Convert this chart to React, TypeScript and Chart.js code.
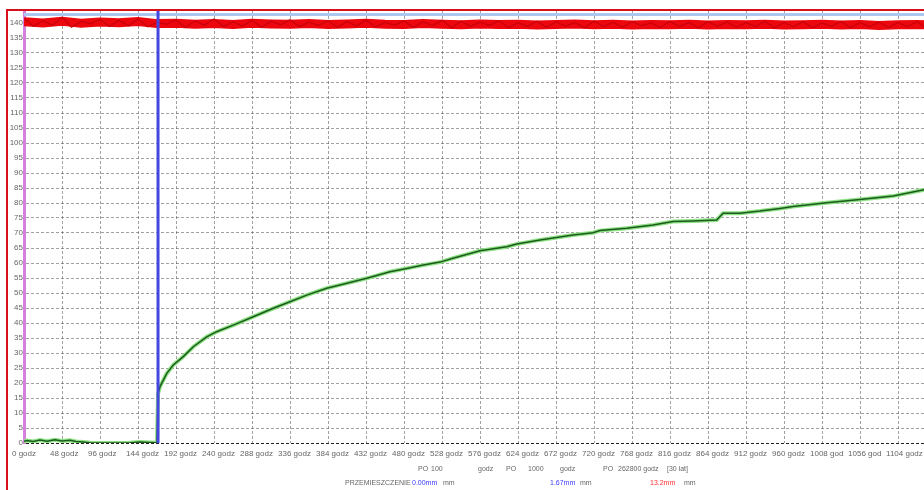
import { useEffect, useRef } from "react";
import { Chart, registerables } from "chart.js";

Chart.register(...registerables);

// ---- data (hours on x, displacement-ish scale on y) ----
const yTicks = [0, 5, 10, 15, 20, 25, 30, 35, 40, 45, 50, 55, 60, 65, 70, 75, 80, 85, 90, 95, 100, 105, 110, 115, 120, 125, 130, 135, 140];
const xTicks = [0, 48, 96, 144, 192, 240, 288, 336, 384, 432, 480, 528, 576, 624, 672, 720, 768, 816, 864, 912, 960, 1008, 1056, 1104];

const greenHours = [0, 3.8, 11.4, 20.2, 29, 39, 48, 58, 65.7, 74.5, 83.4, 108.6, 134, 146.5, 159, 168, 169.3, 171.8, 180.3, 188.6, 201.2, 213.9, 230.8, 243.4, 264.4, 289.6, 314.9, 336, 357.1, 382.4, 399.2, 432.9, 462.3, 483.4, 504.4, 525.5, 541.9, 576, 609.7, 622.3, 651.8, 693.5, 718.7, 727.6, 761.3, 794.5, 819.8, 845.1, 875, 883, 904.4, 929.7, 955, 971.4, 1013.9, 1056, 1097.7, 1140];
const greenValues = [0.6, 0.8, 0.5, 1.0, 0.6, 1.1, 0.7, 0.9, 0.5, 0.3, 0.1, 0, 0.1, 0.3, 0.2, 0.1, 16.5, 18.8, 23.2, 26, 28.8, 32.1, 35.4, 37.1, 39.3, 42.1, 44.9, 47.1, 49.3, 51.6, 52.7, 54.9, 57.1, 58.2, 59.3, 60.3, 61.6, 64.1, 65.4, 66.3, 67.7, 69.3, 70.1, 70.8, 71.6, 72.7, 73.8, 74, 74.3, 76.6, 76.6, 77.3, 78.2, 78.8, 80.1, 81.2, 82.3, 84.6];

const redHours = [0, 24, 48, 72, 96, 120, 144, 168, 192, 216, 240, 264, 288, 312, 336, 360, 384, 408, 432, 456, 480, 504, 528, 552, 576, 600, 624, 648, 672, 696, 720, 744, 768, 792, 816, 840, 864, 888, 912, 936, 960, 984, 1008, 1032, 1056, 1080, 1104, 1128, 1152, 1176, 1200, 1224];
const redValues = [140.4, 140.0, 140.6, 139.9, 140.3, 140.1, 140.5, 139.8, 139.9, 139.6, 139.8, 139.5, 139.9, 139.7, 139.6, 139.8, 139.5, 139.7, 139.9, 139.6, 139.5, 139.8, 139.6, 139.4, 139.7, 139.5, 139.6, 139.3, 139.5, 139.7, 139.4, 139.6, 139.3, 139.5, 139.4, 139.6, 139.3, 139.5, 139.4, 139.6, 139.3, 139.4, 139.6, 139.3, 139.5, 139.2, 139.4, 139.5, 139.3, 139.4, 139.5, 139.3];

const redNoiseHours = [0, 12, 24, 36, 48, 60, 72, 84, 96, 108, 120, 132, 144, 156, 168, 180, 192, 204, 216, 228, 240, 252, 264, 276, 288, 300, 312, 324, 336, 348, 360, 372, 384, 396, 408, 420, 432, 444, 456, 468, 480, 492, 504, 516, 528, 540, 552, 564, 576, 588, 600, 612, 624, 636, 648, 660, 672, 684, 696, 708, 720, 732, 744, 756, 768, 780, 792, 804, 816, 828, 840, 852, 864, 876, 888, 900, 912, 924, 936, 948, 960, 972, 984, 996, 1008, 1020, 1032, 1044, 1056, 1068, 1080, 1092, 1104, 1116, 1128, 1140, 1152, 1164, 1176, 1188, 1200, 1212, 1224, 1236];
const redNoiseValues = [141.6, 138.9, 140.8, 139.2, 141.9, 138.6, 140.5, 139.8, 141.2, 138.8, 140.9, 139.1, 141.4, 138.7, 140.2, 139.6, 141.0, 138.5, 140.7, 139.3, 141.3, 138.9, 140.4, 139.0, 140.9, 138.6, 140.6, 139.4, 141.1, 138.8, 140.3, 139.2, 140.8, 138.5, 140.5, 139.0, 141.0, 138.7, 140.2, 139.3, 140.7, 138.6, 140.4, 139.1, 140.9, 138.4, 140.6, 138.9, 140.3, 139.2, 140.8, 138.5, 140.1, 138.9, 140.6, 138.6, 140.4, 139.0, 140.2, 138.4, 140.7, 138.8, 140.3, 138.6, 140.5, 139.1, 140.0, 138.5, 140.6, 138.8, 140.2, 138.4, 140.5, 138.9, 140.3, 138.6, 140.1, 138.8, 140.6, 138.3, 140.2, 138.7, 140.4, 138.5, 140.0, 138.9, 140.5, 138.4, 140.2, 138.7, 140.3, 138.5, 140.1, 138.8, 140.4, 138.3, 140.2, 138.6, 140.0, 138.7, 140.3, 138.5, 140.1, 138.6];

const blueCursorHour = 169.3;
const upperLineValue = 142.8;
const yMax = 144;
const xMax = 1232.8;

const FONT = "'Liberation Sans Narrow', 'Liberation Sans', Arial, sans-serif";

function pts(xs: number[], ys: number[]) {
  return xs.map((x, i) => ({ x, y: ys[i] }));
}

export default function App() {
  const ref = useRef<HTMLCanvasElement>(null);

  useEffect(() => {
    const canvas = ref.current!;
    const green = pts(greenHours, greenValues);
    const chart = new Chart(canvas, {
      type: "line",
      data: {
        datasets: [
          {
            data: [{ x: 0, y: upperLineValue }, { x: xMax, y: upperLineValue }],
            borderColor: "rgb(172,200,240)",
            borderWidth: 3,
            pointRadius: 0,
            order: 7,
          },
          {
            data: pts(redHours, redValues),
            borderColor: "rgb(236,6,14)",
            borderWidth: 9,
            pointRadius: 0,
            order: 3,
          },
          {
            data: pts(redNoiseHours, redNoiseValues),
            borderColor: "rgb(200,0,10)",
            borderWidth: 1.2,
            pointRadius: 0,
            order: 2,
          },
          {
            data: green,
            borderColor: "rgb(140,225,130)",
            borderWidth: 4,
            pointRadius: 0,
            order: 5,
          },
          {
            data: green,
            borderColor: "rgb(28,90,30)",
            borderWidth: 1.5,
            pointRadius: 0,
            order: 4,
          },
          {
            data: [{ x: blueCursorHour, y: 0 }, { x: blueCursorHour, y: yMax }],
            borderColor: "rgb(70,70,225)",
            borderWidth: 3,
            pointRadius: 0,
            order: 1,
          },
        ],
      },
      options: {
        animation: false,
        responsive: false,
        maintainAspectRatio: false,
        layout: { padding: { top: 11, left: 0, right: 0, bottom: 0 } },
        plugins: { legend: { display: false }, tooltip: { enabled: false } },
        elements: { line: { tension: 0 } },
        scales: {
          x: {
            type: "linear",
            min: 0,
            max: xMax,
            afterBuildTicks: (s: any) => {
              s.ticks = xTicks.map((v) => ({ value: v }));
            },
            afterFit: (s: any) => {
              s.height = 47;
            },
            grid: { color: "rgba(70,70,70,0.5)", lineWidth: 1, drawTicks: false },
            border: { display: false, dash: [3, 2] },
            ticks: {
              autoSkip: false,
              maxRotation: 0,
              minRotation: 0,
              align: "start",
              labelOffset: -12,
              padding: 6,
              color: "#666",
              font: { family: FONT, size: 8 },
              showLabelBackdrop: true,
              backdropColor: "#ffffff",
              backdropPadding: { left: 4, right: 0, top: 0, bottom: 0 },
              callback: (v: any) => `${v} godz`,
            },
          },
          y: {
            type: "linear",
            min: 0,
            max: yMax,
            afterBuildTicks: (s: any) => {
              s.ticks = yTicks.map((v) => ({ value: v }));
            },
            afterFit: (s: any) => {
              s.width = 24;
            },
            grid: {
              color: (c: any) => (c.tick && c.tick.value === 0 ? "#222" : "rgba(70,70,70,0.5)"),
              lineWidth: 1,
              drawTicks: false,
            },
            border: { display: true, color: "rgb(214,128,222)", width: 3, dash: [3, 2] },
            ticks: {
              autoSkip: false,
              padding: 1,
              color: "#666",
              font: { family: FONT, size: 8 },
            },
          },
        },
      },
    } as any);
    return () => chart.destroy();
  }, []);

  const txt: any = {
    position: "absolute",
    font: "7px 'Liberation Sans', Arial, sans-serif",
    lineHeight: "8px",
    color: "#666",
    whiteSpace: "pre",
  };

  return (
    <div style={{ position: "relative", width: 924, height: 490, overflow: "hidden", background: "#fff" }}>
      <style>{`body{margin:0}`}</style>
      <canvas ref={ref} width={1000} height={490} style={{ position: "absolute", left: 0, top: 0, width: 1000, height: 490 }} />
      <div style={{ position: "absolute", left: 6, top: 9, width: 918, height: 2, background: "rgb(216,16,28)" }} />
      <div style={{ position: "absolute", left: 6, top: 9, width: 2, height: 481, background: "rgb(216,16,28)" }} />

      <span style={{ ...txt, left: 418, top: 465 }}>PO</span>
      <span style={{ ...txt, left: 431, top: 465 }}>100</span>
      <span style={{ ...txt, left: 478, top: 465 }}>godz</span>
      <span style={{ ...txt, left: 506, top: 465 }}>PO</span>
      <span style={{ ...txt, left: 528, top: 465 }}>1000</span>
      <span style={{ ...txt, left: 560, top: 465 }}>godz</span>
      <span style={{ ...txt, left: 603, top: 465 }}>PO</span>
      <span style={{ ...txt, left: 618, top: 465 }}>262800 godz</span>
      <span style={{ ...txt, left: 667, top: 465 }}>[30 lat]</span>

      <span style={{ ...txt, left: 345, top: 479 }}>PRZEMIESZCZENIE</span>
      <span style={{ ...txt, left: 412, top: 479, color: "#3a3aff" }}>0.00mm</span>
      <span style={{ ...txt, left: 443, top: 479 }}>mm</span>
      <span style={{ ...txt, left: 550, top: 479, color: "#3a3aff" }}>1.67mm</span>
      <span style={{ ...txt, left: 580, top: 479 }}>mm</span>
      <span style={{ ...txt, left: 650, top: 479, color: "#ff3030" }}>13.2mm</span>
      <span style={{ ...txt, left: 684, top: 479 }}>mm</span>
    </div>
  );
}
